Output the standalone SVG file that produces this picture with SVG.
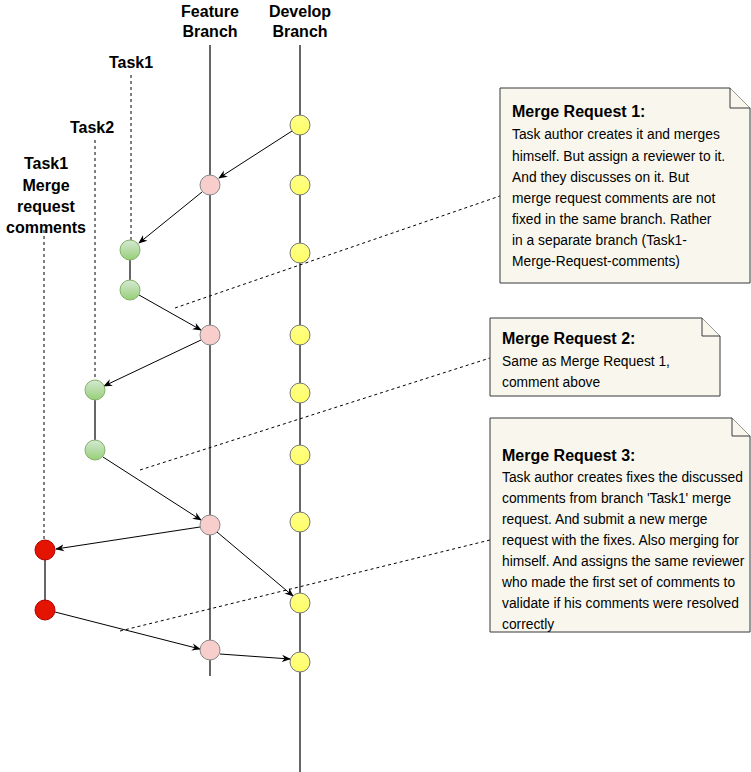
<svg xmlns="http://www.w3.org/2000/svg" width="751" height="772" viewBox="0 0 751 772">
<style>
text{font-family:"Liberation Sans",Arial,sans-serif;fill:#000}
.h{font-size:16px;font-weight:bold;text-anchor:middle}
.t{font-size:16px;font-weight:bold}
.b{font-size:13.8px}
.ln{stroke:#000;stroke-width:1.2;fill:none}
.dl{stroke:#000;stroke-width:1;stroke-dasharray:3 3;fill:none}
.ar{stroke:#000;stroke-width:1;fill:none;marker-end:url(#a)}
.y{fill:url(#gy);stroke:#777}
.p{fill:#f8cecc;stroke:#888}
.g{fill:url(#gg);stroke:#82b366}
.r{fill:#e51400;stroke:#b20000}
.note{fill:#f9f7ed;stroke:#36393d}
</style>
<defs>
<marker id="a" viewBox="0 0 10 10" refX="9" refY="5" markerWidth="9" markerHeight="9" orient="auto"><path d="M0,1 L10,5 L0,9 L3,5 Z" fill="#000"/></marker>
<linearGradient id="gy" x1="0" y1="0" x2="0" y2="1"><stop offset="0" stop-color="#ffff88"/><stop offset="1" stop-color="#ffff66"/></linearGradient>
<linearGradient id="gg" x1="0" y1="0" x2="0" y2="1"><stop offset="0" stop-color="#d5e8d4"/><stop offset="1" stop-color="#97d077"/></linearGradient>
</defs>
<g id="labels">
<text class="h" x="210" y="17">Feature</text><text class="h" x="210" y="37">Branch</text>
<text class="h" x="300" y="17">Develop</text><text class="h" x="300" y="37">Branch</text>
<text class="h" x="131" y="68">Task1</text>
<text class="h" x="92" y="133">Task2</text>
<text class="h" x="46" y="169">Task1</text><text class="h" x="46" y="191">Merge</text><text class="h" x="46" y="212">request</text><text class="h" x="46" y="233">comments</text>
</g>
<g id="connectors">
<line class="ln" x1="210" y1="45" x2="210" y2="676"/>
<line class="ln" x1="300" y1="45" x2="300" y2="772"/>
<line class="ln" x1="130" y1="250" x2="130" y2="290"/>
<line class="ln" x1="95" y1="390" x2="95" y2="450"/>
<line class="ln" x1="45" y1="550" x2="45" y2="610"/>
<line class="dl" x1="131" y1="75" x2="131" y2="240"/>
<line class="dl" x1="95" y1="140" x2="95" y2="380"/>
<line class="dl" x1="44" y1="230" x2="44" y2="540"/>
<line class="ar" x1="292" y1="131" x2="219" y2="178"/>
<line class="ar" x1="202" y1="192" x2="139" y2="243"/>
<line class="ar" x1="139" y1="295" x2="201" y2="330"/>
<line class="ar" x1="201" y1="340" x2="104" y2="386"/>
<line class="ar" x1="103" y1="457" x2="201" y2="520"/>
<line class="ar" x1="200" y1="527" x2="56" y2="549"/>
<line class="ar" x1="217" y1="532" x2="293" y2="596"/>
<line class="ar" x1="55" y1="612" x2="200" y2="649"/>
<line class="ar" x1="220" y1="654" x2="290" y2="659"/>
<line class="dl" x1="175" y1="308" x2="500" y2="196"/>
<line class="dl" x1="140" y1="470" x2="490" y2="358"/>
<line class="dl" x1="120" y1="631" x2="490" y2="540"/>
</g>
<g id="develop-nodes">
<circle class="y" cx="300" cy="125" r="10"/><circle class="y" cx="300" cy="185" r="10"/><circle class="y" cx="300" cy="253" r="10"/>
<circle class="y" cx="300" cy="335" r="10"/><circle class="y" cx="300" cy="393" r="10"/><circle class="y" cx="300" cy="455" r="10"/>
<circle class="y" cx="300" cy="522" r="10"/><circle class="y" cx="300" cy="603" r="10"/><circle class="y" cx="300" cy="662" r="10"/>
</g>
<g id="feature-nodes">
<circle class="p" cx="210" cy="185" r="10"/><circle class="p" cx="210" cy="335" r="10"/><circle class="p" cx="210" cy="525" r="10"/><circle class="p" cx="210" cy="650" r="10"/>
</g>
<g id="task-nodes">
<circle class="g" cx="130" cy="250" r="10"/><circle class="g" cx="130" cy="290" r="10"/>
<circle class="g" cx="95" cy="390" r="10"/><circle class="g" cx="95" cy="450" r="10"/>
<circle class="r" cx="45" cy="550" r="10"/><circle class="r" cx="45" cy="610" r="10"/>
</g>
<g id="note1">
<path class="note" d="M500,88 H730 L750,108 V283 H500 Z"/><path class="note" d="M730,88 V108 H750"/>
<text class="t" x="512" y="117">Merge Request 1:</text>
<text class="b" x="512" y="139">Task author creates it and merges</text>
<text class="b" x="512" y="161">himself. But assign a reviewer to it.</text>
<text class="b" x="512" y="182">And they discusses on it. But</text>
<text class="b" x="512" y="203">merge request comments are not</text>
<text class="b" x="512" y="224">fixed in the same branch. Rather</text>
<text class="b" x="512" y="245">in a separate branch (Task1-</text>
<text class="b" x="512" y="266">Merge-Request-comments)</text>
</g>
<g id="note2">
<path class="note" d="M490,318 H702 L720,336 V396 H490 Z"/><path class="note" d="M702,318 V336 H720"/>
<text class="t" x="502" y="344">Merge Request 2:</text>
<text class="b" x="502" y="366">Same as Merge Request 1,</text>
<text class="b" x="502" y="387">comment above</text>
</g>
<g id="note3">
<path class="note" d="M490,418 H732 L750,436 V632 H490 Z"/><path class="note" d="M732,418 V436 H750"/>
<text class="t" x="502" y="461">Merge Request 3:</text>
<text class="b" x="502" y="482">Task author creates fixes the discussed</text>
<text class="b" x="502" y="503">comments from branch 'Task1' merge</text>
<text class="b" x="502" y="524">request. And submit a new merge</text>
<text class="b" x="502" y="545">request with the fixes. Also merging for</text>
<text class="b" x="502" y="566">himself. And assigns the same reviewer</text>
<text class="b" x="502" y="587">who made the first set of comments to</text>
<text class="b" x="502" y="608">validate if his comments were resolved</text>
<text class="b" x="502" y="629">correctly</text>
</g>
</svg>
